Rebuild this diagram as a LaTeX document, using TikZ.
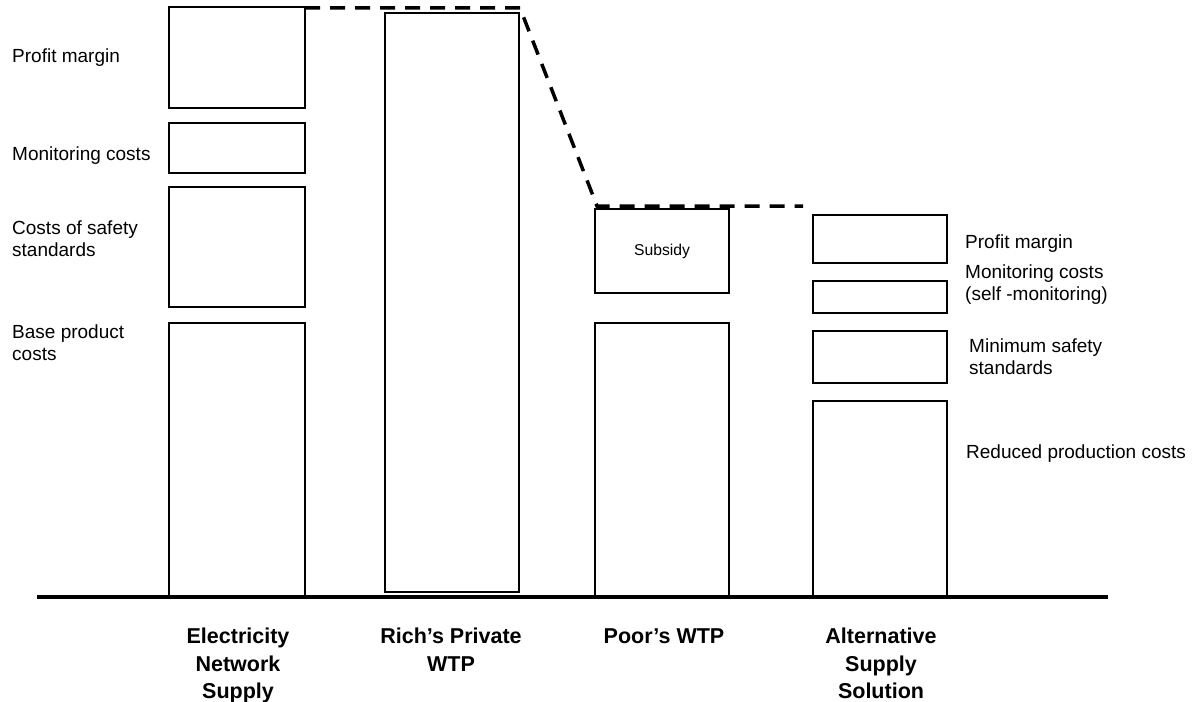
\documentclass[tikz,border=0pt]{standalone}
\usepackage{fontspec}
\setmainfont{Liberation Sans}
\begin{document}
\begin{tikzpicture}[x=1pt,y=-1pt,
  bar/.style={draw, rectangle, line width=2pt, inner sep=0pt, outer sep=0pt, anchor=north west},
  lbl/.style={anchor=base west, inner sep=0pt, align=left, font=\fontsize{19}{21.7}\selectfont},
  cat/.style={anchor=base, inner sep=0pt, align=center, font=\fontsize{21.5}{27.5}\selectfont\bfseries},
  axisline/.style={line width=4pt},
  level/.style={line width=3.5pt, dash pattern=on 15pt off 10pt}]
\useasboundingbox (0,0) rectangle (1198,701);
% Electricity network supply
\node[bar, minimum width=136.3pt, minimum height=101pt] (e1p) at (168.7,7) {};
\node[bar, minimum width=136.3pt, minimum height=50pt] (e1m) at (168.7,123) {};
\node[bar, minimum width=136.3pt, minimum height=120pt] (e1s) at (168.7,187) {};
\node[bar, minimum width=136.3pt, minimum height=273pt] (e1b) at (168.7,323) {};
% Rich's private WTP
\node[bar, minimum width=134pt, minimum height=579pt] (rich) at (385,13) {};
% Poor's WTP
\node[bar, minimum width=134pt, minimum height=84pt, font=\fontsize{15.7}{18}\selectfont] (p1s) at (595,209) {Subsidy};
\node[bar, minimum width=134pt, minimum height=273pt] (p1b) at (595,323) {};
% Alternative supply solution
\node[bar, minimum width=134pt, minimum height=48pt] (a1p) at (813,215) {};
\node[bar, minimum width=134pt, minimum height=32pt] (a1m) at (813,281) {};
\node[bar, minimum width=134pt, minimum height=52pt] (a1s) at (813,331) {};
\node[bar, minimum width=134pt, minimum height=195pt] (a1r) at (813,401) {};
% axis
\coordinate (ax1) at (37,597);
\coordinate (ax2) at (1108,597);
\draw[axisline] (ax1) -- (ax2);
% dashed level line
\coordinate (d1) at (305,8);
\coordinate (d2) at (520,8);
\coordinate (d3) at (597,206);
\coordinate (d4) at (803,206);
\draw[level] (d1) -- (d2) -- (d3) -- (d4);
% left labels (base anchor = baseline of the last line)
\node[lbl] (lp) at (12,63) {Profit margin};
\node[lbl] (lm) at (12,160) {Monitoring costs};
\node[lbl] (ls) at (12,256) {Costs of safety\\standards};
\node[lbl] (lb) at (12,360) {Base product\\costs};
% right labels
\node[lbl] (rp) at (965,248) {Profit margin};
\node[lbl] (rm) at (965,300) {Monitoring costs\\(self -monitoring)};
\node[lbl] (rs) at (969,374) {Minimum safety\\standards};
\node[lbl] (rr) at (966,458) {Reduced production costs};
% category labels
\node[cat] (c1) at (238,698.5) {Electricity\\Network\\Supply};
\node[cat] (c2) at (451,671) {Rich’s Private\\WTP};
\node[cat] (c3) at (664,643.5) {Poor’s WTP};
\node[cat] (c4) at (881,698.5) {Alternative\\Supply\\Solution};
\end{tikzpicture}
\end{document}
